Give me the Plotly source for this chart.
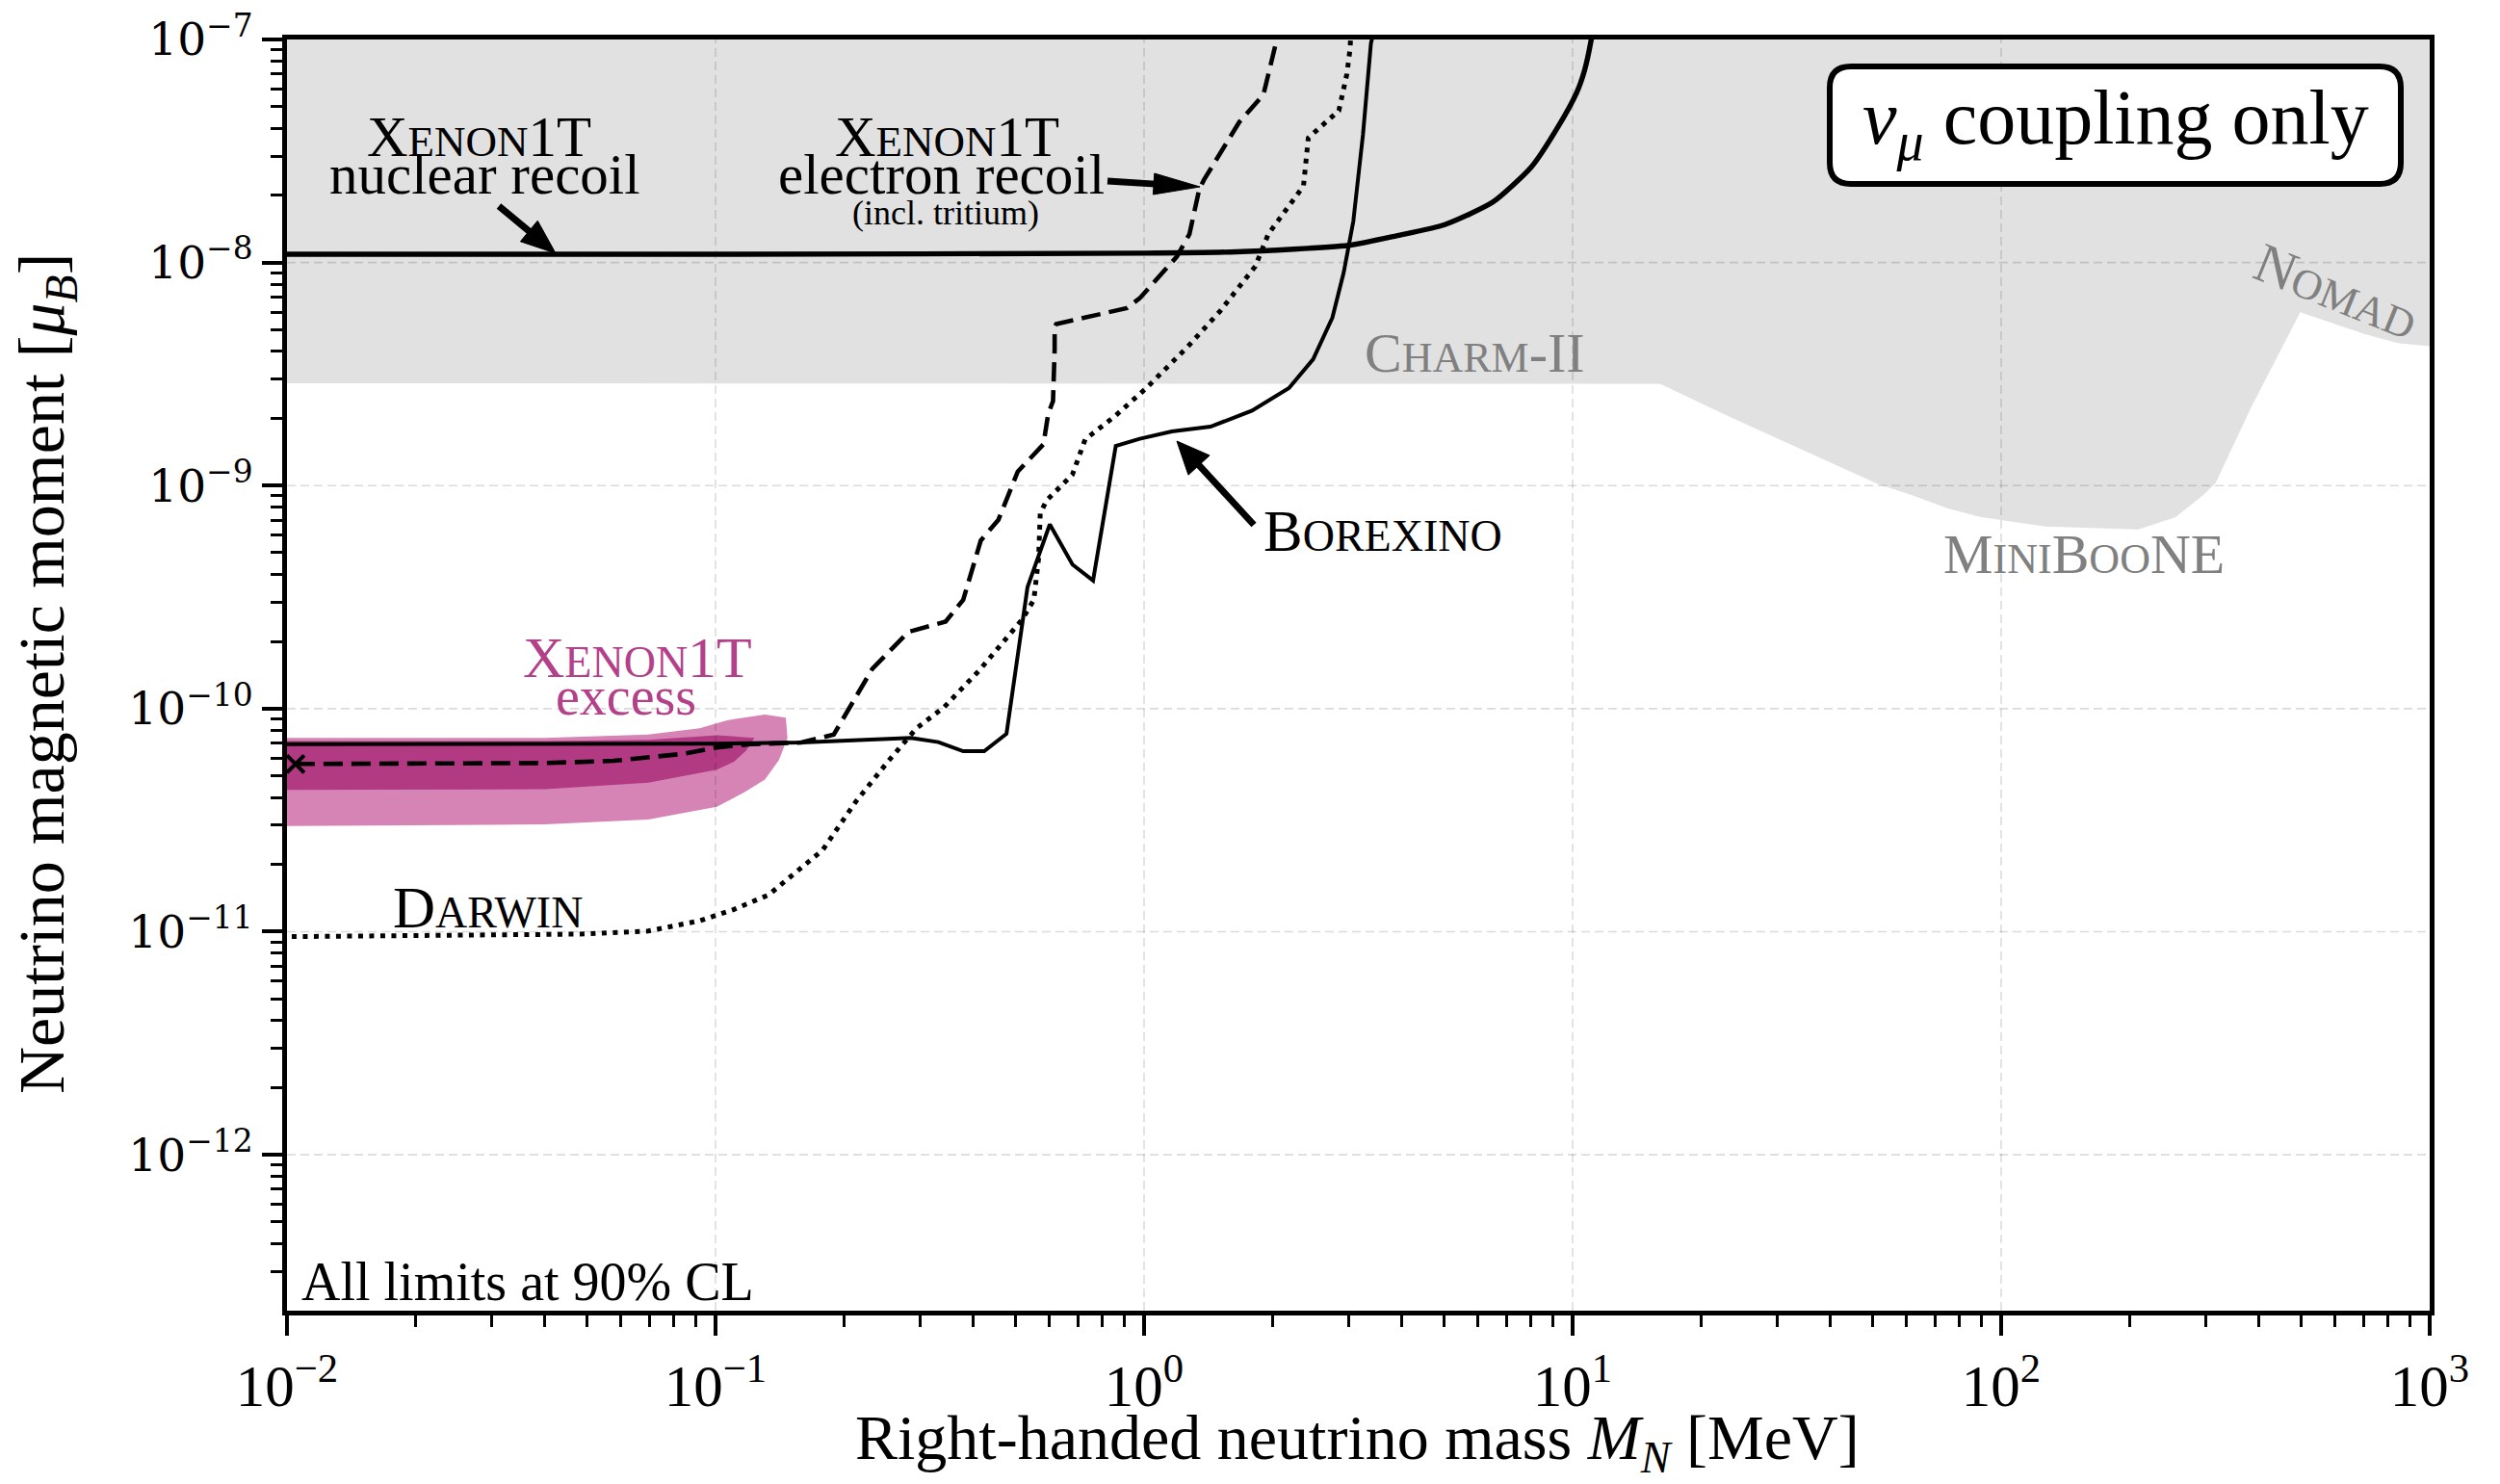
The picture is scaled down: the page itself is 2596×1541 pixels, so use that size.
import math
import plotly.graph_objects as go

# ---------------- data (mass in MeV, magnetic moment in Bohr magnetons) ----------------
# XENON1T nuclear recoil limit
nuclear_M = [0.01, 0.1, 1.0, 1.639, 3.0, 3.882, 5.031, 6.516, 8.017, 9.204, 10.21, 10.66, 11.03, 11.09]
nuclear_mu = [1.089e-8, 1.089e-8, 1.102e-8, 1.117e-8, 1.194e-8, 1.318e-8, 1.479e-8, 1.866e-8,
              2.685e-8, 4.0e-8, 5.754e-8, 7.261e-8, 9.77e-8, 1.047e-7]

# Borexino limit
borexino_M = [0.01, 0.1, 0.1585, 0.2239, 0.2858, 0.3311, 0.3784, 0.4236, 0.4775, 0.5346, 0.6026,
              0.6808, 0.7603, 0.8590, 0.9772, 1.161, 1.429, 1.786, 2.178, 2.480, 2.751, 2.923,
              3.078, 3.242, 3.384, 3.420]
borexino_mu = [6.934e-11, 6.966e-11, 7.047e-11, 7.244e-11, 7.396e-11, 7.079e-11, 6.442e-11,
               6.442e-11, 7.709e-11, 3.508e-10, 6.699e-10, 4.426e-10, 3.750e-10, 1.507e-9,
               1.622e-9, 1.750e-9, 1.837e-9, 2.168e-9, 2.735e-9, 3.681e-9, 5.662e-9, 9.016e-9,
               1.531e-8, 3.741e-8, 9.616e-8, 1.047e-7]

# XENON1T electron recoil limit (incl. tritium)
electron_M = [0.01047, 0.02512, 0.03981, 0.05781, 0.08375, 0.1007, 0.1211, 0.1585, 0.1888, 0.2323,
              0.2818, 0.3443, 0.3784, 0.4159, 0.4573, 0.5073, 0.5823, 0.5975, 0.6131, 0.6185,
              0.6185, 0.6237, 0.9120, 0.9772, 1.192, 1.276, 1.345, 1.380, 1.668, 1.899, 2.034, 2.046]
electron_mu = [5.649e-11, 5.662e-11, 5.702e-11, 5.834e-11, 6.266e-11, 6.699e-11, 6.934e-11,
               7.047e-11, 7.656e-11, 1.510e-10, 2.208e-10, 2.455e-10, 3.076e-10, 5.675e-10,
               7.031e-10, 1.156e-9, 1.531e-9, 2.099e-9, 2.393e-9, 4.074e-9, 5.129e-9, 5.297e-9,
               6.252e-9, 6.918e-9, 1.062e-8, 1.340e-8, 2.128e-8, 2.350e-8, 4.266e-8, 5.662e-8,
               9.616e-8, 1.023e-7]

# Darwin projected sensitivity
darwin_M = [0.01026, 0.02296, 0.04808, 0.06966, 0.09183, 0.1104, 0.1330, 0.1570, 0.1778, 0.2123,
            0.2541, 0.2944, 0.3412, 0.4124, 0.5206, 0.5531, 0.5675, 0.5724, 0.5925, 0.6803,
            0.7288, 0.8585, 1.012, 1.266, 1.504, 1.818, 1.949, 2.355, 2.417, 2.848, 2.974,
            3.026, 3.034]
darwin_mu = [9.506e-12, 9.572e-12, 9.750e-12, 1.007e-11, 1.119e-11, 1.259e-11, 1.462e-11,
             1.905e-11, 2.323e-11, 3.819e-11, 5.875e-11, 8.166e-11, 1.014e-10, 1.483e-10,
             2.523e-10, 3.076e-10, 4.732e-10, 7.516e-10, 8.590e-10, 1.119e-9, 1.611e-9,
             2.061e-9, 2.735e-9, 4.207e-9, 6.053e-9, 9.616e-9, 1.340e-8, 2.203e-8, 3.622e-8,
             4.797e-8, 7.015e-8, 9.141e-8, 1.023e-7]

# lower edge of the combined CHARM-II / MiniBooNE / NOMAD exclusion
excluded_M = [0.01, 15.99, 23.77, 51.64, 62.46, 74.82, 89.74, 126.8, 208.9, 254.7, 295.1, 316.2,
              384.6, 498.9, 706.3, 841.4, 1000.0]
excluded_mu = [2.877e-9, 2.858e-9, 1.995e-9, 1.014e-9, 9.016e-10, 7.907e-10, 7.228e-10,
               6.546e-10, 6.368e-10, 7.194e-10, 9.016e-10, 1.023e-9, 2.275e-9, 5.984e-9,
               4.775e-9, 4.355e-9, 4.217e-9]
mu_top = 1e-7

# XENON1T excess preferred regions (outer and inner contour)
excess_outer_M = [0.01, 0.03999, 0.06966, 0.09183, 0.1064, 0.1304, 0.1459, 0.1472, 0.1406, 0.1304,
                  0.1167, 0.1007, 0.06966, 0.03999, 0.01]
excess_outer_mu = [7.396e-11, 7.396e-11, 7.656e-11, 8.166e-11, 8.872e-11, 9.397e-11, 9.099e-11,
                   7.396e-11, 5.875e-11, 4.808e-11, 4.217e-11, 3.631e-11, 3.184e-11, 3.027e-11,
                   2.979e-11]
excess_inner_M = [0.01, 0.03999, 0.06966, 0.1007, 0.1233, 0.1178, 0.1104, 0.1007, 0.06966,
                  0.03999, 0.01]
excess_inner_mu = [7.161e-11, 7.161e-11, 7.244e-11, 7.603e-11, 7.396e-11, 6.486e-11, 5.781e-11,
                   5.321e-11, 4.656e-11, 4.355e-11, 4.325e-11]

# best-fit point of the excess
best_M = [0.01047]
best_mu = [5.649e-11]

# axis ticks
x_major = [1e-2, 1e-1, 1e0, 1e1, 1e2, 1e3]
x_major_text = ["10<sup>−2</sup>", "10<sup>−1</sup>", "10<sup>0</sup>", "10<sup>1</sup>",
                "10<sup>2</sup>", "10<sup>3</sup>"]
y_major = [1e-12, 1e-11, 1e-10, 1e-9, 1e-8, 1e-7]
y_major_text = ["10<sup>−12</sup>", "10<sup>−11</sup>", "10<sup>−10</sup>", "10<sup>−9</sup>",
                "10<sup>−8</sup>", "10<sup>−7</sup>"]
x_range = [1e-2, 1e3]
y_range = [2e-13, 1e-7]

# ---------------- styling ----------------
FONT = "Liberation Serif"
GRAY_FILL = "#e1e1e1"
PINK_LIGHT = "#d584b5"
PINK_DARK = "#b13a82"
PINK_TEXT = "#b4408a"
GRAY_TEXT = "#808080"

W, H = 2596, 1541
L, R, T, B = 298, 2523, 41, 1361


def px(X):
    return (X - L) / (R - L)


def py(Y):
    return (B - Y) / (B - T)


def smallcaps(word, size):
    """Render lower-case letters as reduced capitals."""
    out, run = "", ""
    small = int(round(size * 0.76))
    for ch in word + "\0":
        if ch.islower():
            run += ch.upper()
        else:
            if run:
                out += f"<span style='font-size:{small}px'>{run}</span>"
                run = ""
            if ch != "\0":
                out += ch
    return out


def decades(lo, hi):
    a, b = int(math.floor(math.log10(lo) + 1e-9)), int(math.floor(math.log10(hi) + 1e-9))
    return [10.0 ** k for k in range(a, b + 1)]


def minor_ticks(lo, hi):
    vals = []
    for d in decades(lo, hi):
        for m in range(2, 10):
            v = m * d
            if lo < v < hi:
                vals.append(v)
    return vals


fig = go.Figure()

# excluded region (filled up to the top of the frame)
fig.add_trace(go.Scatter(
    x=excluded_M + [excluded_M[-1], excluded_M[0]],
    y=excluded_mu + [mu_top, mu_top],
    fill="toself", fillcolor=GRAY_FILL, line=dict(width=0), mode="lines",
    hoverinfo="skip", showlegend=False))

# excess regions
fig.add_trace(go.Scatter(x=excess_outer_M, y=excess_outer_mu, fill="toself",
                         fillcolor=PINK_LIGHT, line=dict(width=0), mode="lines",
                         hoverinfo="skip", showlegend=False))
fig.add_trace(go.Scatter(x=excess_inner_M, y=excess_inner_mu, fill="toself",
                         fillcolor=PINK_DARK, line=dict(width=0), mode="lines",
                         hoverinfo="skip", showlegend=False))

# dashed grid at the decades, drawn over the filled regions
grid_style = dict(color="rgba(0,0,0,0.14)", width=1.6, dash="9px,5px")
for v in y_major:
    if y_range[0] < v < y_range[1]:
        fig.add_trace(go.Scatter(x=x_range, y=[v, v], mode="lines", line=grid_style,
                                 hoverinfo="skip", showlegend=False))
for v in x_major:
    if x_range[0] < v < x_range[1]:
        fig.add_trace(go.Scatter(x=[v, v], y=y_range, mode="lines", line=grid_style,
                                 hoverinfo="skip", showlegend=False))

# limits
fig.add_trace(go.Scatter(x=darwin_M, y=darwin_mu, mode="lines",
                         line=dict(color="black", width=5, dash="5px,6.5px"),
                         name="Darwin", showlegend=False))
fig.add_trace(go.Scatter(x=electron_M, y=electron_mu, mode="lines",
                         line=dict(color="black", width=4.6, dash="20px,9px"),
                         name="XENON1T electron recoil", showlegend=False))
fig.add_trace(go.Scatter(x=borexino_M, y=borexino_mu, mode="lines",
                         line=dict(color="black", width=4),
                         name="Borexino", showlegend=False))
fig.add_trace(go.Scatter(x=nuclear_M, y=nuclear_mu, mode="lines",
                         line=dict(color="black", width=5.4, shape="spline", smoothing=0.6),
                         name="XENON1T nuclear recoil", showlegend=False))
fig.add_trace(go.Scatter(x=best_M, y=best_mu, mode="markers",
                         marker=dict(symbol="x-thin", size=18, color="black",
                                     line=dict(width=4, color="black")),
                         name="best fit", showlegend=False))

# ---------------- annotations ----------------
ann = []


def label(text, X, Y, size, color="black", anchor="center", angle=0):
    ann.append(dict(text=text, x=px(X), y=py(Y), xref="paper", yref="paper",
                    xanchor=anchor, yanchor="middle", showarrow=False, textangle=angle,
                    font=dict(family=FONT, size=size, color=color)))


def baseline(Yb, size):
    return Yb - 0.34 * size


S = 59
label(smallcaps("Xenon1T", S), 497, baseline(162, S), S)
label("nuclear recoil", 503, baseline(201, S), S)
label(smallcaps("Xenon1T", S), 983, baseline(162, S), S)
label("electron recoil", 977, baseline(201, S), S)
label("(incl. tritium)", 982, baseline(233, 36), 36)
label(smallcaps("Borexino", S + 2), 1436, baseline(572, S + 2), S + 2)
label(smallcaps("Darwin", S + 2), 506, baseline(963, S + 2), S + 2)
label(smallcaps("Xenon1T", S + 1), 662, baseline(703, S + 1), S + 1, PINK_TEXT)
label("excess", 650, baseline(742, 56), 56, PINK_TEXT)
G = 58
label(smallcaps("Charm-II", G), 1531, baseline(386, G), G, GRAY_TEXT)
label(smallcaps("MiniBooNE", G), 2164, baseline(595, G), G, GRAY_TEXT)
label(smallcaps("Nomad", G), 2426, 302, G, GRAY_TEXT, angle=22)
label("All limits at 90% CL", 311, baseline(1350, 56), 56, anchor="left")
label("<i>ν</i><sub><i>μ</i></sub> coupling only", 2197, 128, 80)

# axis titles
ann.append(dict(text="Right-handed neutrino mass <i>M</i><sub><i>N</i></sub> [MeV]",
                x=px(1409), y=py(baseline(1520, 66)), xref="paper", yref="paper",
                xanchor="center", yanchor="middle", showarrow=False,
                font=dict(family=FONT, size=66, color="black")))
ann.append(dict(text="Neutrino magnetic moment [<i>μ</i><sub><i>B</i></sub>]",
                x=px(47), y=py(700), xref="paper", yref="paper",
                xanchor="center", yanchor="middle", showarrow=False, textangle=-90,
                font=dict(family=FONT, size=68, color="black")))

# ---------------- arrows and the coupling box ----------------
shapes = []


def arrow(tail, head, head_len, head_w, shaft_w):
    (x0, y0), (x1, y1) = tail, head
    d = math.hypot(x1 - x0, y1 - y0)
    ux, uy = (x1 - x0) / d, (y1 - y0) / d
    bx, by = x1 - ux * head_len, y1 - uy * head_len
    nx, ny = -uy, ux
    shapes.append(dict(type="line", xref="paper", yref="paper",
                       x0=px(x0), y0=py(y0), x1=px(bx + ux * 2), y1=py(by + uy * 2),
                       line=dict(color="black", width=shaft_w), layer="above"))
    pts = [(x1, y1), (bx + nx * head_w / 2, by + ny * head_w / 2),
           (bx - nx * head_w / 2, by - ny * head_w / 2)]
    path = "M" + " L".join(f"{px(a):.5f},{py(b):.5f}" for a, b in pts) + " Z"
    shapes.append(dict(type="path", xref="paper", yref="paper", path=path,
                       fillcolor="black", line=dict(color="black", width=1), layer="above"))


arrow((518, 214), (577, 263), 36, 28, 7)
arrow((1150, 188), (1246, 194), 48, 22, 7)
arrow((1302, 545), (1222, 458), 34, 30, 7)


def rounded_box(x0, y0, x1, y1, r):
    p = [f"M{px(x0 + r)},{py(y0)}", f"L{px(x1 - r)},{py(y0)}",
         f"Q{px(x1)},{py(y0)} {px(x1)},{py(y0 + r)}", f"L{px(x1)},{py(y1 - r)}",
         f"Q{px(x1)},{py(y1)} {px(x1 - r)},{py(y1)}", f"L{px(x0 + r)},{py(y1)}",
         f"Q{px(x0)},{py(y1)} {px(x0)},{py(y1 - r)}", f"L{px(x0)},{py(y0 + r)}",
         f"Q{px(x0)},{py(y0)} {px(x0 + r)},{py(y0)}", "Z"]
    return " ".join(p)


shapes.append(dict(type="path", xref="paper", yref="paper",
                   path=rounded_box(1900, 69, 2493, 191, 22),
                   fillcolor="white", line=dict(color="black", width=6), layer="above"))

# ---------------- axes ----------------
axis_common = dict(type="log", showgrid=False, zeroline=False, showline=True, mirror=True,
                   linecolor="black", linewidth=5, ticks="outside", tickcolor="black",
                   tickwidth=4, ticklen=21, tickmode="array")

fig.update_layout(
    width=W, height=H,
    margin=dict(l=L, r=W - R, t=T, b=H - B, pad=0, autoexpand=False),
    paper_bgcolor="white", plot_bgcolor="white",
    font=dict(family=FONT, color="black"),
    xaxis=dict(axis_common, range=[math.log10(x_range[0]), math.log10(x_range[1])],
               tickvals=x_major, ticktext=x_major_text,
               tickfont=dict(family=FONT, size=61, color="black"),
               minor=dict(tickmode="array", tickvals=minor_ticks(*x_range), ticks="outside",
                          ticklen=12, tickwidth=3, tickcolor="black", showgrid=False)),
    yaxis=dict(axis_common, range=[math.log10(y_range[0]), math.log10(y_range[1])],
               tickvals=y_major, ticktext=y_major_text,
               tickfont=dict(family="DejaVu Serif", size=47, color="black"),
               minor=dict(tickmode="array", tickvals=minor_ticks(*y_range), ticks="outside",
                          ticklen=12, tickwidth=3, tickcolor="black", showgrid=False)),
    annotations=ann, shapes=shapes, showlegend=False,
)

fig.write_html("out.html")
